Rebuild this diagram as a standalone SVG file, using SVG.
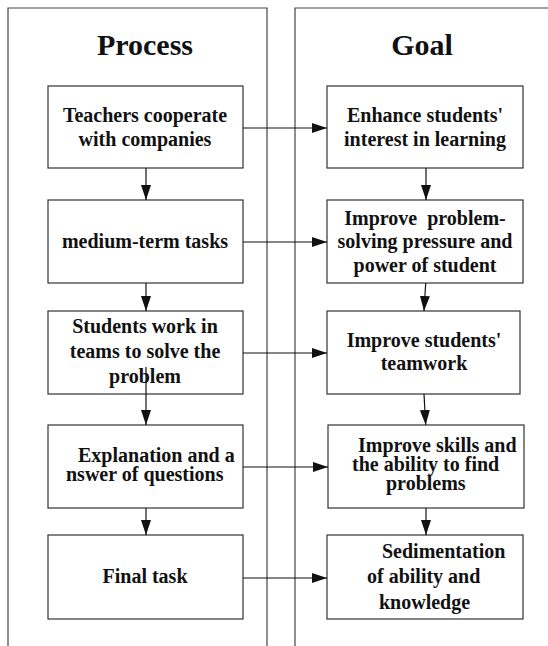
<svg xmlns="http://www.w3.org/2000/svg" width="548" height="646" viewBox="0 0 548 646">
<style>
.panel{fill:none;stroke:#444;stroke-width:1.2}
.box{fill:#fff;stroke:#333;stroke-width:1.2}
.t{font-family:"Liberation Serif","Times New Roman",serif;font-weight:bold;font-size:20px;fill:#111}
.c{text-anchor:middle}
.title{font-family:"Liberation Serif","Times New Roman",serif;font-weight:bold;font-size:30px;fill:#111;text-anchor:middle}
.conn{stroke:#111;stroke-width:1.2;fill:none;marker-end:url(#ah)}
</style>
<defs>
<marker id="ah" markerUnits="userSpaceOnUse" markerWidth="16" markerHeight="12" refX="15" refY="5" orient="auto">
<path d="M0,0 L15,5 L0,10 Z" fill="#111"/>
</marker>
</defs>
<g id="panel-process">
<path class="panel" d="M8,646 V8 H267 V646"/>
<text class="title" x="145" y="55">Process</text>
</g>
<g id="panel-goal">
<path class="panel" d="M295,646 V8 H560"/>
<text class="title" x="422" y="55">Goal</text>
</g>
<g id="p1"><rect class="box" x="48" y="86" width="195" height="82"/>
<text class="t c" x="145" y="122">Teachers cooperate</text>
<text class="t c" x="145" y="146">with companies</text></g>
<g id="p2"><rect class="box" x="48" y="200" width="195" height="83"/>
<text class="t c" x="145" y="248">medium-term tasks</text></g>
<g id="p3"><rect class="box" x="48" y="311" width="195" height="83"/>
<text class="t c" x="145" y="333">Students work in</text>
<text class="t c" x="145" y="358">teams to solve the</text>
<text class="t c" x="145" y="383">problem</text></g>
<g id="p4"><rect class="box" x="48" y="425" width="195" height="83"/>
<text class="t" x="78" y="462">Explanation and a</text>
<text class="t" x="66" y="481">nswer of questions</text></g>
<g id="p5"><rect class="box" x="48" y="535" width="195" height="84"/>
<text class="t c" x="145" y="583">Final task</text></g>
<g id="g1"><rect class="box" x="327" y="86" width="196" height="82"/>
<text class="t c" x="425" y="122">Enhance students'</text>
<text class="t c" x="425" y="146">interest in learning</text></g>
<g id="g2"><rect class="box" x="327" y="200" width="196" height="83"/>
<text class="t c" x="425" y="225" xml:space="preserve">Improve  problem-</text>
<text class="t c" x="425" y="248">solving pressure and</text>
<text class="t c" x="425" y="272">power of student</text></g>
<g id="g3"><rect class="box" x="327" y="311" width="193" height="83"/>
<text class="t c" x="424" y="347">Improve students'</text>
<text class="t c" x="424" y="370">teamwork</text></g>
<g id="g4"><rect class="box" x="328" y="425" width="196" height="83"/>
<text class="t" x="358" y="452">Improve skills and</text>
<text class="t" x="352" y="471">the ability to find</text>
<text class="t" x="386" y="490">problems</text></g>
<g id="g5"><rect class="box" x="327" y="535" width="196" height="84"/>
<text class="t" x="382" y="558">Sedimentation</text>
<text class="t" x="367" y="583">of ability and</text>
<text class="t" x="379" y="609">knowledge</text></g>
<g id="connectors">
<path class="conn" d="M146,168 V200"/>
<path class="conn" d="M146,283 V311"/>
<path class="conn" d="M146,367 V425"/>
<path class="conn" d="M146,508 V535"/>
<path class="conn" d="M426,168 V200"/>
<path class="conn" d="M425.7,283 L424,311"/>
<path class="conn" d="M424,394 L425.7,425"/>
<path class="conn" d="M426,508 V535"/>
<path class="conn" d="M243,128 H327"/>
<path class="conn" d="M243,242 H327"/>
<path class="conn" d="M243,353 H327"/>
<path class="conn" d="M243,467 H328"/>
<path class="conn" d="M243,578 H327"/>
</g>
</svg>
